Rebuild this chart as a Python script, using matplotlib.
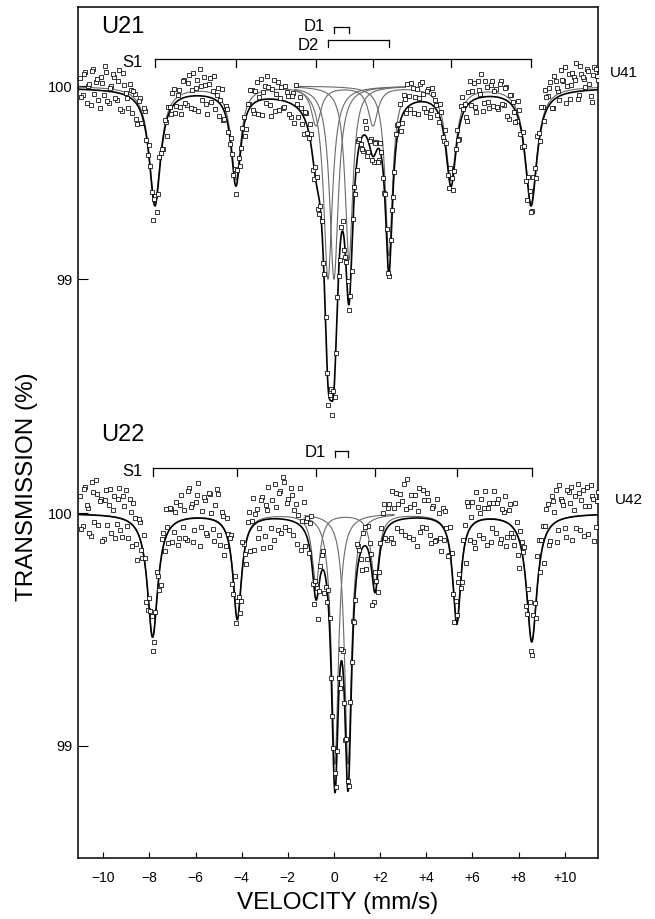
import numpy as np
import matplotlib
matplotlib.use("Agg")
import matplotlib.pyplot as plt

plt.rcParams['font.family'] = ['Liberation Sans', 'DejaVu Sans']

# ---------------- data ----------------
vel_range = (-11.0, 11.4)          # mm/s, spectrometer sweep

# U21 / U41 spectrum (top)
u21_s1_pos = [-7.76, -4.25, -0.78, 1.69, 5.07, 8.54]
u21_s1_depth = [0.60, 0.48, 0.20, 0.20, 0.48, 0.60]
u21_s1_width = [0.60, 0.50, 0.50, 0.50, 0.55, 0.62]
u21_d1_pos = [0.00, 0.65]
u21_d1_depth = [1.00, 0.90]
u21_d1_width = [0.45, 0.40]
u21_d2_pos = [-0.26, 2.38]
u21_d2_depth = [1.00, 0.88]
u21_d2_width = [0.45, 0.38]
u21_bg = (0.3, 0.034, 14.0)        # broad background line: pos, depth, width

# residuals of the points about the fit, in 0.01 % (two sweep halves)
u21_resid = [
    6, -3, 9, 2, -8, 11, 4, -5, 7, -2, 10, -6, 3, 8, -4, 12, -9, 5, -1, 7,
    -7, 4, -10, 6, -3, 9, -5, 2, -12, 5, -4, 3, -6, 1, 4, -3, 8, -2, 5, -8,
    9, -4, 11, 3, -7, 8, 14, -2, 6, -9, 10, 4, -5, 7, 2, -6, 5, -3, 4, -2,
    -4, 6, -2, 5, -7, 3, 8, -5, 10, 2, -8, 7, 12, -3, 5, -6, 9, 1, -4, 8,
    3, -7, 6, 11, -4, 2, -9, 5, -3, 7, -6, 4, -8, 3, 6, -5, 2, -7, -10, 4,
    -6, 5, -3, 8, -4, 2, -9, 6, -2, -8, 4, -5, 7, -3, 5, -6, 3, -4, 6, -2,
    5, -3, 7, 10, -4, 6, 12, -2, 8, 3, -6, 9, 4, -5, 7, -3, 6, 2, -4, 5,
    -3, 6, -5, 4, -2, 7, -6, 10, 3, -8, 11, 5, -4, 9, 2, -7, 8, -3, 6, -5,
    4, -6, 9, -3, 7, -9, 5, -2, -4, 6, -7, 3, -12, 5, -4, 7, 10, -3, 8, 12,
    6, 11, -4, 9, 3, 13, 7, -5, 10, 4, 8, 15, -2, 9, 6, 11, 3, -6, 12, 7,
]
u21_resid_b = [
    -4, 8, -7, 3, 10, -2, 6, -9, 4, 13, -5, 2, 9, -3, 6, -8, 11, 1, -6, 4,
    5, -8, 3, -5, 7, -2, 6, -4, 3, -7, 8, -1, 5, -9, 2, 7, -5, 3, -4, 9,
    -3, 7, -6, 12, 4, -8, 5, 10, -4, 7, -2, 12, 3, -7, 9, -4, 6, -5, 2, 7,
    6, -5, 3, -8, 4, 9, -3, 6, -7, 11, 4, -2, 6, -9, 10, 3, -5, 7, -3, 5,
    -6, 4, -9, 2, 7, -5, 4, -3, 8, -7, 5, -9, 2, -6, 4, -8, 6, 3, -5, -2,
    4, -7, 6, -3, -8, 5, -4, 3, -6, 7, -9, 3, -2, 6, -7, 4, -5, 8, -3, 6,
    -4, 8, 3, -6, 9, -2, 5, 11, -5, 7, 2, 10, -3, 6, -7, 9, 4, -2, 7, -5,
    7, -4, 9, -6, 3, -3, 8, 2, -5, 6, -2, 9, -7, 4, 12, -3, 5, -6, 8, 3,
    -5, 7, -3, 6, -8, 4, 2, -6, 8, -4, 5, -9, 7, -3, 9, -5, 6, 11, -2, 7,
    9, -3, 12, 5, -2, 8, 14, 4, -3, 10, 6, -4, 13, 7, 2, 10, -3, 8, 11, 5,
]

# U22 / U42 spectrum (bottom)
u22_s1_pos = [-7.86, -4.19, -0.78, 1.78, 5.32, 8.57]
u22_s1_depth = [0.53, 0.45, 0.30, 0.30, 0.47, 0.55]
u22_s1_width = [0.55, 0.45, 0.40, 0.40, 0.42, 0.55]
u22_d1_pos = [0.04, 0.61]
u22_d1_depth = [1.08, 1.08]
u22_d1_width = [0.36, 0.36]

u22_resid = [
    8, -5, 12, 3, -9, 10, 15, -4, 7, -10, 11, 5, -7, 9, -3, 13, -8, 6, -2, 10,
    -9, 4, -12, 7, -4, 3, -8, 5, -6, 2, 4, -10, 6, 12, -5, 8, -3, 9, -7, 11,
    4, -9, 13, 6, -5, 10, -12, 3, 8, -7, 11, -4, 7, 12, -9, 5, -6, 3, 9, -5,
    -4, 7, -8, 5, -10, 9, 3, -11, 6, -3, 10, -7, 4, -12, 8, 15, -5, 12, 18, -3,
    9, 14, -6, 8, 4, -10, 12, 6, -4, 19, -8, 5, -3, 7, -9, -6, 4, -3, 8, -5,
    -7, 6, -9, 4, 12, 7, -5, 8, -3, 6, -10, 11, 5, -6, 3, -4, 7, 13, -5, 9,
    14, 6, -3, 11, 8, -7, 17, 5, -9, 10, 3, -6, 12, -4, 8, -10, 6, -8, 4, -11,
    -5, 3, -4, 6, -9, 4, 11, -7, 9, 14, -5, 10, -11, 6, 3, -8, 12, 5, -10, 7,
    -6, 9, -8, 4, -10, 6, -3, -7, 5, -12, 4, 9, -8, 11, -6, 7, 13, -4, 9, 5,
    12, -6, 10, 14, -4, 9, 6, -8, 11, 13, 3, -5, 10, 7, -9, 12, 4, 8, -11, 6,
]
u22_resid_b = [
    -6, 11, 4, -8, 14, -3, 9, 6, -11, 7, -4, 12, 3, -9, 8, -5, 10, 13, -7, 5,
    10, -6, 7, -3, 9, -11, 4, 8, -5, 12, -8, 6, -4, 3, 9, -7, 5, -10, 7, -3,
    -8, 12, 5, -10, 7, 15, -4, 9, -6, 11, 3, -9, 14, -5, 6, -11, 8, 4, -7, 10,
    8, -6, 11, -3, 6, -9, 12, 4, -7, 9, -12, 6, 14, -4, -9, 5, 11, -6, 16, 7,
    -4, 11, 5, -9, 16, 3, -6, 9, 12, -5, 7, -11, 4, 8, -4, 6, -7, 5, -3, 9,
    5, -8, 10, -4, 7, -6, 13, 3, -9, 8, -5, 6, -12, 9, -7, 4, 11, -3, 8, -6,
    -9, 12, 7, -5, 15, 4, -8, 10, 6, -12, 13, -4, 8, 11, -7, 5, -9, 10, -6, 8,
    9, -7, 12, -5, 7, 15, -3, 6, -10, 11, 4, -8, 13, -6, 9, 5, -11, 7, -4, 12,
    7, -10, 5, 11, -6, 9, -4, 12, -8, 6, 3, -11, 10, -5, 8, -7, 14, 6, -9, 11,
    -7, 13, 5, -9, 15, 8, -4, 12, 6, -10, 9, 14, -6, 11, 4, -8, 13, 7, -5, 10,
]

xticks = list(range(-10, 11, 2))
xtick_labels = ['\u221210', '\u22128', '\u22126', '\u22124', '\u22122', '0',
                '+2', '+4', '+6', '+8', '+10']


def lor(v, pos, depth, width):
    return depth / (1 + (2 * (v - pos) / width) ** 2)


def absorption(v, pos, depth, width):
    return sum(lor(v, p, d, w) for p, d, w in zip(pos, depth, width))


# layout: axis units are pixels above the bottom spine
top_base, top_scale = 772.3, 193.3
bot_base, bot_scale = 345.0, 232.4

fig = plt.figure(figsize=(6.55, 9.19), dpi=100)
ax = fig.add_axes([78.3 / 655, 60.7 / 919, 519.7 / 655, 851.6 / 919])
ax.set_xlim(-11.08, 11.44)
ax.set_ylim(0, 851.6)

vv = np.linspace(-11.08, 11.44, 2000)
sub_col = '#6a6a6a'


def total_abs(v, s1, doublets, bg):
    t = absorption(v, *s1)
    for d in doublets:
        t = t + absorption(v, *d)
    if bg is not None:
        t = t + lor(v, *bg)
    return t


def draw_spectrum(s1, doublets, bg, resids, base, scale, sub_rng):
    s1_abs = absorption(vv, *s1)
    total = total_abs(vv, s1, doublets, bg)
    # sub-spectra
    ax.plot(vv, base - s1_abs * scale, color=sub_col, lw=0.8, zorder=2)
    m = (vv > sub_rng[0]) & (vv < sub_rng[1])
    for d in doublets:
        for p, dep, w in zip(*d):
            ax.plot(vv[m], base - lor(vv[m], p, dep, w) * scale,
                    color=sub_col, lw=0.8, zorder=2)
    ax.plot(vv, base - total * scale, color='black', lw=1.2, zorder=3)
    # measured points, two sweep halves shifted by half a channel
    for k, resid in enumerate(resids):
        vch = np.linspace(vel_range[0], vel_range[1], len(resid))
        vch = vch + k * (vch[1] - vch[0]) / 2
        ych = base - (total_abs(vch, s1, doublets, bg)
                      - np.array(resid) / 100.0) * scale
        ax.plot(vch, ych, ls='none', marker='s', ms=2.2, mfc='white',
                mec='black', mew=0.55, zorder=4)


draw_spectrum((u21_s1_pos, u21_s1_depth, u21_s1_width),
              [(u21_d1_pos, u21_d1_depth, u21_d1_width),
               (u21_d2_pos, u21_d2_depth, u21_d2_width)],
              u21_bg, [u21_resid, u21_resid_b], top_base, top_scale, (-1.7, 3.1))
draw_spectrum((u22_s1_pos, u22_s1_depth, u22_s1_width),
              [(u22_d1_pos, u22_d1_depth, u22_d1_width)],
              None, [u22_resid, u22_resid_b], bot_base, bot_scale, (-1.3, 2.6))


def bracket(pos, y, drop):
    ax.plot([pos[0], pos[-1]], [y, y], color='black', lw=0.9)
    for p in pos:
        ax.plot([p, p], [y, y - drop], color='black', lw=0.9)


bracket(u21_d1_pos, 831.6, 6.5)
bracket(u21_d2_pos, 818.6, 7.5)
bracket(u21_s1_pos, 799.0, 7.5)
bracket(u22_d1_pos, 407.6, 6.5)
bracket(u22_s1_pos, 390.0, 7.5)

ax.text(-10.1, 831, 'U21', fontsize=17, va='center', ha='left')
ax.text(-8.3, 796, 'S1', fontsize=12, va='center', ha='right')
ax.text(-0.4, 831.6, 'D1', fontsize=12, va='center', ha='right')
ax.text(-0.66, 812.6, 'D2', fontsize=12, va='center', ha='right')
ax.text(11.96, 785, 'U41', fontsize=11, va='center', ha='left', clip_on=False)

ax.text(-10.1, 423.3, 'U22', fontsize=17, va='center', ha='left')
ax.text(-8.3, 386.6, 'S1', fontsize=12, va='center', ha='right')
ax.text(-0.36, 406, 'D1', fontsize=12, va='center', ha='right')
ax.text(12.18, 358.3, 'U42', fontsize=11, va='center', ha='left', clip_on=False)

ax.set_xticks(xticks)
ax.set_xticklabels(xtick_labels)
ax.set_yticks([top_base, top_base - top_scale, bot_base, bot_base - bot_scale])
ax.set_yticklabels(['100', '99', '100', '99'])
ax.tick_params(axis='x', direction='in', length=4, width=0.8, pad=9, labelsize=10)
ax.tick_params(axis='y', direction='in', length=7, width=0.8, pad=4, labelsize=10.5)
for s in ax.spines.values():
    s.set_linewidth(1.1)

fig.text(27 / 655, 1 - 487 / 919, 'TRANSMISSION (%)', rotation=90,
         ha='center', va='center', fontsize=17.5)
fig.text(338 / 655, 1 - 903 / 919, 'VELOCITY (mm/s)', ha='center',
         va='center', fontsize=17.5)

fig.savefig('out.png', dpi=100)
